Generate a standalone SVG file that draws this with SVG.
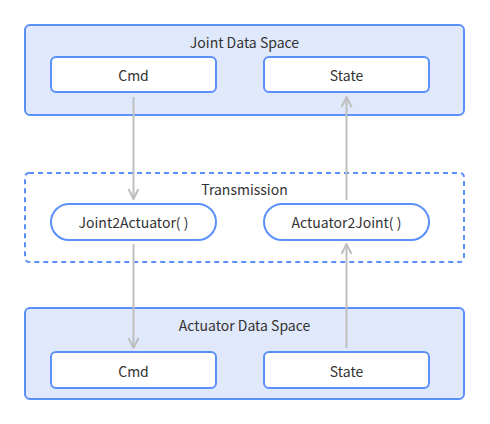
<svg xmlns="http://www.w3.org/2000/svg" width="490" height="424" viewBox="0 0 490 424">
<defs>
<style>
.container{fill:#e0e8fb;stroke:#5b8ff9;stroke-width:2}
.dash{fill:none;stroke:#5b8ff9;stroke-width:2;stroke-dasharray:5 4}
.box{fill:#ffffff;stroke:#5b8ff9;stroke-width:2}
.t{font-family:"Noto Sans CJK SC","Noto Sans","Liberation Sans",sans-serif;font-size:14px;fill:#333333;text-anchor:middle;dominant-baseline:central}
.edge{stroke:#bfbfbf;stroke-width:2;fill:none}
</style>
<marker id="arr" viewBox="0 0 12 12" refX="11" refY="6" markerWidth="12" markerHeight="12" markerUnits="userSpaceOnUse" orient="auto">
<path d="M1,1 L11,6 L1,11" fill="none" stroke="#bfbfbf" stroke-width="2"/>
</marker>
</defs>
<rect width="490" height="424" fill="#ffffff"/>
<g id="joint-data-space">
<rect class="container" x="25" y="25" width="439" height="90" rx="5"/>
<text class="t" x="244.5" y="42">Joint Data Space</text>
</g>
<g id="joint-cmd">
<rect class="box" x="51" y="57" width="165" height="35" rx="5"/>
<text class="t" x="133.5" y="75">Cmd</text>
</g>
<g id="joint-state">
<rect class="box" x="264" y="57" width="165" height="35" rx="5"/>
<text class="t" x="346.5" y="75">State</text>
</g>
<g id="transmission">
<rect class="dash" x="25" y="173" width="439" height="89" rx="4"/>
<text class="t" x="244.5" y="189">Transmission</text>
</g>
<g id="joint2actuator">
<rect class="box" x="51" y="204" width="165" height="36" rx="18"/>
<text class="t" x="133.5" y="222">Joint2Actuator( )</text>
</g>
<g id="actuator2joint">
<rect class="box" x="264" y="204" width="165" height="36" rx="18"/>
<text class="t" x="346.5" y="222">Actuator2Joint( )</text>
</g>
<g id="actuator-data-space">
<rect class="container" x="25" y="308" width="439" height="91" rx="5"/>
<text class="t" x="244.5" y="325">Actuator Data Space</text>
</g>
<g id="actuator-cmd">
<rect class="box" x="51" y="352" width="165" height="36" rx="5"/>
<text class="t" x="133.5" y="371">Cmd</text>
</g>
<g id="actuator-state">
<rect class="box" x="264" y="352" width="165" height="36" rx="5"/>
<text class="t" x="346.5" y="371">State</text>
</g>
<g id="connectors">
<line class="edge" x1="133.5" y1="97" x2="133.5" y2="199" marker-end="url(#arr)"/>
<line class="edge" x1="133.5" y1="244" x2="133.5" y2="348" marker-end="url(#arr)"/>
<line class="edge" x1="346.5" y1="348" x2="346.5" y2="244" marker-end="url(#arr)"/>
<line class="edge" x1="346.5" y1="200" x2="346.5" y2="97" marker-end="url(#arr)"/>
</g>
</svg>
